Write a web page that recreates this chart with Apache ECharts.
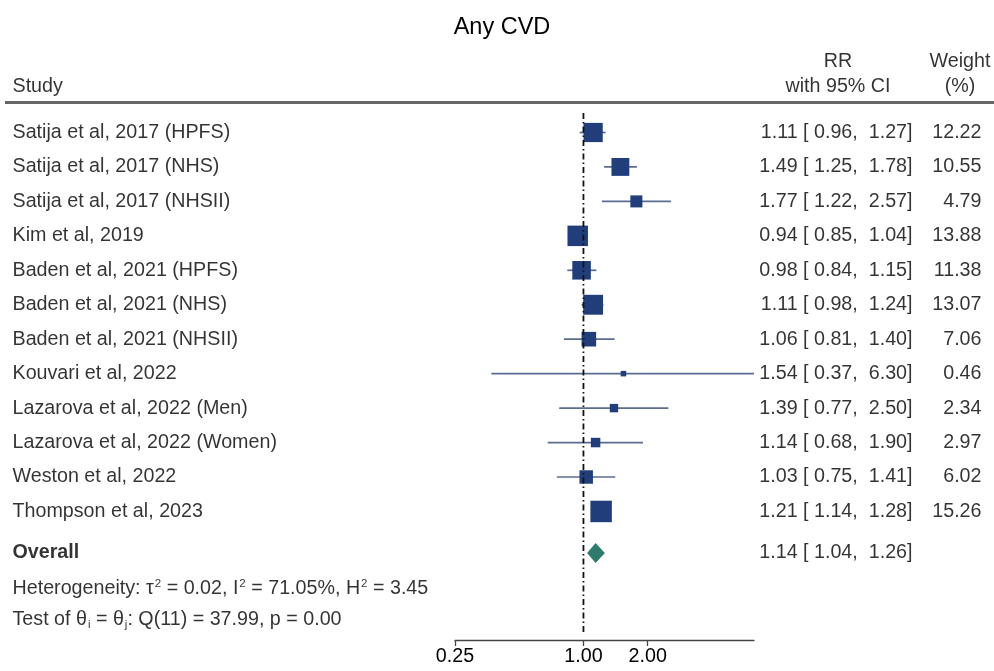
<!DOCTYPE html>
<html>
<head>
<meta charset="utf-8">
<script src="https://cdn.jsdelivr.net/npm/echarts@6/dist/echarts.min.js"></script>
<style>
html,body{margin:0;padding:0;background:#fff;}
#chart{width:994px;height:671px;}
</style>
</head>
<body>
<div id="chart"></div>
<script>
// ---------------- DATA ----------------
const STUDIES = [
  'Satija et al, 2017 (HPFS)',
  'Satija et al, 2017 (NHS)',
  'Satija et al, 2017 (NHSII)',
  'Kim et al, 2019',
  'Baden et al, 2021 (HPFS)',
  'Baden et al, 2021 (NHS)',
  'Baden et al, 2021 (NHSII)',
  'Kouvari et al, 2022',
  'Lazarova et al, 2022 (Men)',
  'Lazarova et al, 2022 (Women)',
  'Weston et al, 2022',
  'Thompson et al, 2023'
];
const RR      = [1.11, 1.49, 1.77, 0.94, 0.98, 1.11, 1.06, 1.54, 1.39, 1.14, 1.03, 1.21];
const CI_LO   = [0.96, 1.25, 1.22, 0.85, 0.84, 0.98, 0.81, 0.37, 0.77, 0.68, 0.75, 1.14];
const CI_HI   = [1.27, 1.78, 2.57, 1.04, 1.15, 1.24, 1.40, 6.30, 2.50, 1.90, 1.41, 1.28];
const WEIGHTS = [12.22, 10.55, 4.79, 13.88, 11.38, 13.07, 7.06, 0.46, 2.34, 2.97, 6.02, 15.26];
const OVERALL = [1.14, 1.04, 1.26];           // RR, lower, upper
const HETEROGENEITY = [0.02, 71.05, 3.45];     // tau^2, I^2 (%), H^2
const TEST_Q = [11, 37.99, 0.00];              // df, Q, p
const X_TICKS = [0.25, 1, 2];
const X_RANGE = [0.25, 6.30];
const NULL_VALUE = 1;

// ---------------- LAYOUT ----------------
const W = 994, H = 671;
const TOP_PX = 10, AXIS_PX = 640;
const ROW0_PX = 132.5, ROW_STEP = 34.45;
const toRow = px => (px - ROW0_PX) / ROW_STEP;
const Y_MIN = toRow(TOP_PX), Y_MAX = toRow(AXIS_PX);
const PLOT_LEFT = 455, PLOT_RIGHT_PX = 754;
const ROW_OVERALL = toRow(553), ROW_HET = toRow(589), ROW_TEST = toRow(620);
const ROW_HEAD1 = toRow(62), ROW_HEAD2 = toRow(87);
const REF_EXT = [toRow(113), toRow(632)];
const COL_STUDY = 12, COL_RR_RIGHT = 913, COL_RR_CENTER = 838, COL_W_RIGHT = 982, COL_W_CENTER = 960;
const FONT = "'Liberation Sans', Arial, Helvetica, sans-serif";
const FS = 19.7;
const TXT = '#000';
const SQ_COLOR = '#213e7a', CI_COLOR = '#5a6c92', DIAMOND_COLOR = '#2e7b6d';
const SQ_SCALE = 5.5, SQ_MIN = 5.5, DIAMOND_HALF = 10;

const f2 = v => v.toFixed(2);
const ciText = (r, l, h) => `${f2(r)} [ ${f2(l)},  ${f2(h)}]`;

function textItem(x, y, text, pos, extra) {
  return {
    value: [x, y],
    label: Object.assign({
      show: true,
      formatter: text,
      position: pos,
      distance: 0,
      color: TXT
    }, extra || {})
  };
}

const textData = [];
// headers
textData.push(textItem(COL_STUDY, ROW_HEAD2, 'Study', 'right'));
textData.push(textItem(COL_RR_CENTER, ROW_HEAD1, 'RR', 'inside'));
textData.push(textItem(COL_RR_CENTER, ROW_HEAD2, 'with 95% CI', 'inside'));
textData.push(textItem(COL_W_CENTER, ROW_HEAD1, 'Weight', 'inside'));
textData.push(textItem(COL_W_CENTER, ROW_HEAD2, '(%)', 'inside'));
// rows
STUDIES.forEach((s, i) => {
  textData.push(textItem(COL_STUDY, i, s, 'right'));
  textData.push(textItem(COL_RR_RIGHT, i, ciText(RR[i], CI_LO[i], CI_HI[i]), 'left'));
  textData.push(textItem(COL_W_RIGHT, i, f2(WEIGHTS[i]), 'left'));
});
textData.push(textItem(COL_STUDY, ROW_OVERALL, 'Overall', 'right', {fontWeight: 'bold'}));
textData.push(textItem(COL_RR_RIGHT, ROW_OVERALL, ciText(OVERALL[0], OVERALL[1], OVERALL[2]), 'left'));
textData.push(textItem(COL_STUDY, ROW_HET,
  `{n|Heterogeneity: τ}{sup|2}{n| = ${f2(HETEROGENEITY[0])}, I}{sup|2}{n| = ${f2(HETEROGENEITY[1])}%, H}{sup|2}{n| = ${f2(HETEROGENEITY[2])}}`,
  'right'));
textData.push(textItem(COL_STUDY, ROW_TEST,
  `{n|Test of θ}{sub|i}{n| = θ}{sub|j}{n|: Q(${TEST_Q[0]}) = ${f2(TEST_Q[1])}, p = ${f2(TEST_Q[2])}}`,
  'right'));

const studyData = STUDIES.map((s, i) => [RR[i], CI_LO[i], CI_HI[i], i, WEIGHTS[i]]);

const chart = echarts.init(document.getElementById('chart'), null, {renderer: 'canvas'});
chart.setOption({
  animation: false,
  backgroundColor: '#fff',
  textStyle: {fontFamily: FONT},
  title: {
    text: 'Any CVD',
    left: 502, top: 16, textAlign: 'center', padding: 0,
    textStyle: {fontFamily: FONT, fontSize: 23.5, fontWeight: 'normal', color: TXT}
  },
  graphic: [{
    type: 'line',
    shape: {x1: 5, y1: 102.5, x2: W, y2: 102.5},
    style: {stroke: '#666', lineWidth: 2.8}
  }],
  grid: [
    {left: 0, right: 0, top: TOP_PX, bottom: H - AXIS_PX},
    {left: PLOT_LEFT, right: W - PLOT_RIGHT_PX, top: TOP_PX, bottom: H - AXIS_PX}
  ],
  xAxis: [
    {gridIndex: 0, type: 'value', min: 0, max: W, show: false},
    {
      gridIndex: 1, type: 'log', logBase: 2, min: X_RANGE[0], max: X_RANGE[1],
      axisLine: {show: true, onZero: false, lineStyle: {color: '#444', width: 1.3}},
      axisTick: {show: true, customValues: X_TICKS, length: 6, lineStyle: {color: '#444', width: 1.3}},
      axisLabel: {show: true, customValues: X_TICKS, formatter: v => Number(v).toFixed(2),
        fontSize: FS, color: TXT, fontFamily: FONT, margin: 7},
      splitLine: {show: false}, minorTick: {show: false}
    }
  ],
  yAxis: [
    {gridIndex: 0, type: 'value', inverse: true, min: Y_MIN, max: Y_MAX, show: false},
    {gridIndex: 1, type: 'value', inverse: true, min: Y_MIN, max: Y_MAX, show: false}
  ],
  series: [
    {
      type: 'scatter', xAxisIndex: 0, yAxisIndex: 0, silent: true,
      symbolSize: 1, itemStyle: {color: 'transparent'},
      label: {
        show: true, fontSize: FS, color: TXT, fontFamily: FONT,
        rich: {
          n: {fontSize: FS, color: TXT, fontFamily: FONT, lineHeight: 24},
          sup: {fontSize: 11.5, color: TXT, fontFamily: FONT, lineHeight: 11, verticalAlign: 'top', padding: [1, 0, 0, 1]},
          sub: {fontSize: 11.5, color: TXT, fontFamily: FONT, lineHeight: 11, verticalAlign: 'bottom', padding: [0, 0, 1, 1]}
        }
      },
      data: textData
    },
    {
      type: 'line', xAxisIndex: 1, yAxisIndex: 1, silent: true, symbol: 'none',
      lineStyle: {color: '#111', width: 1.8, type: [6, 3, 1.5, 3]},
      data: [[NULL_VALUE, REF_EXT[0]], [NULL_VALUE, REF_EXT[1]]]
    },
    {
      type: 'custom', xAxisIndex: 1, yAxisIndex: 1, silent: true,
      encode: {x: [0, 1, 2], y: 3},
      renderItem: (params, api) => {
        const est = api.value(0), lo = api.value(1), hi = api.value(2), y = api.value(3), w = api.value(4);
        const pL = api.coord([lo, y]), pH = api.coord([hi, y]), pE = api.coord([est, y]);
        const s = Math.max(SQ_MIN, SQ_SCALE * Math.sqrt(w));
        return {
          type: 'group',
          children: [
            {type: 'line', shape: {x1: pL[0], y1: pL[1], x2: pH[0], y2: pH[1]},
              style: {stroke: CI_COLOR, lineWidth: 1.7}},
            {type: 'rect', shape: {x: pE[0] - s / 2, y: pE[1] - s / 2, width: s, height: s},
              style: {fill: SQ_COLOR}}
          ]
        };
      },
      data: studyData
    },
    {
      type: 'custom', xAxisIndex: 1, yAxisIndex: 1, silent: true,
      encode: {x: [0, 1, 2], y: 3},
      renderItem: (params, api) => {
        const est = api.value(0), lo = api.value(1), hi = api.value(2), y = api.value(3);
        const pL = api.coord([lo, y]), pH = api.coord([hi, y]), pE = api.coord([est, y]);
        return {
          type: 'polygon',
          shape: {points: [[pL[0], pL[1]], [pE[0], pE[1] - DIAMOND_HALF], [pH[0], pH[1]], [pE[0], pE[1] + DIAMOND_HALF]]},
          style: {fill: DIAMOND_COLOR}
        };
      },
      data: [[OVERALL[0], OVERALL[1], OVERALL[2], ROW_OVERALL]]
    }
  ]
});
</script>
</body>
</html>
